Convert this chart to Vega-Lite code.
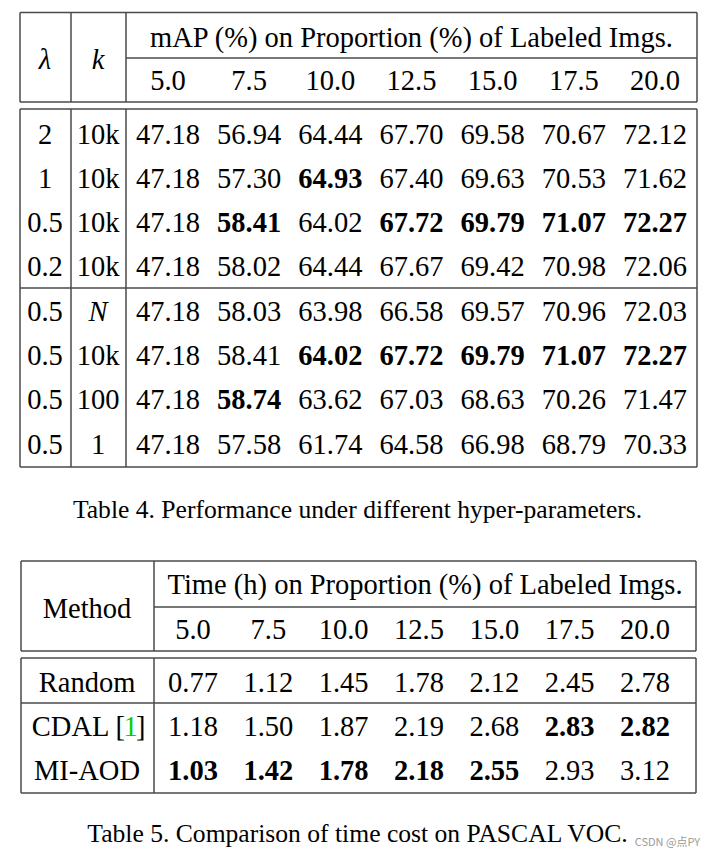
{
  "$schema": "https://vega.github.io/schema/vega-lite/v6.json",
  "width": 707,
  "height": 859,
  "padding": 0,
  "autosize": {"type": "none"},
  "background": "white",
  "config": {
    "view": {"stroke": null},
    "text": {"font": "Liberation Serif", "fontSize": 28.5, "color": "#000000", "baseline": "middle", "align": "center", "dy": 1.5},
    "rule": {"color": "#4a4a4a", "strokeWidth": 1.5}
  },
  "datasets": {
    "t4lines": [
      {"x1": -0.5, "x2": 8.5, "y1": -0.5, "y2": -0.5},
      {"x1": 1.5, "x2": 8.5, "y1": 0.5, "y2": 0.5},
      {"x1": -0.5, "x2": 8.5, "y1": 1.5, "y2": 1.5},
      {"x1": -0.5, "x2": -0.5, "y1": -0.5, "y2": 1.5},
      {"x1": 0.5, "x2": 0.5, "y1": -0.5, "y2": 1.5},
      {"x1": 1.5, "x2": 1.5, "y1": -0.5, "y2": 1.5},
      {"x1": 8.5, "x2": 8.5, "y1": -0.5, "y2": 1.5},
      {"x1": -0.5, "x2": 8.5, "y1": 1.6, "y2": 1.6},
      {"x1": -0.5, "x2": 8.5, "y1": 5.5, "y2": 5.5},
      {"x1": -0.5, "x2": 8.5, "y1": 9.5, "y2": 9.5},
      {"x1": -0.5, "x2": -0.5, "y1": 1.6, "y2": 9.5},
      {"x1": 0.5, "x2": 0.5, "y1": 1.6, "y2": 9.5},
      {"x1": 1.5, "x2": 1.5, "y1": 1.6, "y2": 9.5},
      {"x1": 8.5, "x2": 8.5, "y1": 1.6, "y2": 9.5}
    ],
    "t4cells": [
      {"row": 0, "col": 5, "text": "mAP (%) on Proportion (%) of Labeled Imgs."},
      {"row": 0.5, "col": 0, "text": "λ", "math": true},
      {"row": 0.5, "col": 1, "text": "k", "math": true},
      {"row": 1, "col": 2, "text": "5.0"},
      {"row": 1, "col": 3, "text": "7.5"},
      {"row": 1, "col": 4, "text": "10.0"},
      {"row": 1, "col": 5, "text": "12.5"},
      {"row": 1, "col": 6, "text": "15.0"},
      {"row": 1, "col": 7, "text": "17.5"},
      {"row": 1, "col": 8, "text": "20.0"},

      {"row": 2, "col": 0, "text": "2"},
      {"row": 2, "col": 1, "text": "10k"},
      {"row": 2, "col": 2, "text": "47.18"},
      {"row": 2, "col": 3, "text": "56.94"},
      {"row": 2, "col": 4, "text": "64.44"},
      {"row": 2, "col": 5, "text": "67.70"},
      {"row": 2, "col": 6, "text": "69.58"},
      {"row": 2, "col": 7, "text": "70.67"},
      {"row": 2, "col": 8, "text": "72.12"},

      {"row": 3, "col": 0, "text": "1"},
      {"row": 3, "col": 1, "text": "10k"},
      {"row": 3, "col": 2, "text": "47.18"},
      {"row": 3, "col": 3, "text": "57.30"},
      {"row": 3, "col": 4, "text": "64.93", "bold": true},
      {"row": 3, "col": 5, "text": "67.40"},
      {"row": 3, "col": 6, "text": "69.63"},
      {"row": 3, "col": 7, "text": "70.53"},
      {"row": 3, "col": 8, "text": "71.62"},

      {"row": 4, "col": 0, "text": "0.5"},
      {"row": 4, "col": 1, "text": "10k"},
      {"row": 4, "col": 2, "text": "47.18"},
      {"row": 4, "col": 3, "text": "58.41", "bold": true},
      {"row": 4, "col": 4, "text": "64.02"},
      {"row": 4, "col": 5, "text": "67.72", "bold": true},
      {"row": 4, "col": 6, "text": "69.79", "bold": true},
      {"row": 4, "col": 7, "text": "71.07", "bold": true},
      {"row": 4, "col": 8, "text": "72.27", "bold": true},

      {"row": 5, "col": 0, "text": "0.2"},
      {"row": 5, "col": 1, "text": "10k"},
      {"row": 5, "col": 2, "text": "47.18"},
      {"row": 5, "col": 3, "text": "58.02"},
      {"row": 5, "col": 4, "text": "64.44"},
      {"row": 5, "col": 5, "text": "67.67"},
      {"row": 5, "col": 6, "text": "69.42"},
      {"row": 5, "col": 7, "text": "70.98"},
      {"row": 5, "col": 8, "text": "72.06"},

      {"row": 6, "col": 0, "text": "0.5"},
      {"row": 6, "col": 1, "text": "N", "math": true},
      {"row": 6, "col": 2, "text": "47.18"},
      {"row": 6, "col": 3, "text": "58.03"},
      {"row": 6, "col": 4, "text": "63.98"},
      {"row": 6, "col": 5, "text": "66.58"},
      {"row": 6, "col": 6, "text": "69.57"},
      {"row": 6, "col": 7, "text": "70.96"},
      {"row": 6, "col": 8, "text": "72.03"},

      {"row": 7, "col": 0, "text": "0.5"},
      {"row": 7, "col": 1, "text": "10k"},
      {"row": 7, "col": 2, "text": "47.18"},
      {"row": 7, "col": 3, "text": "58.41"},
      {"row": 7, "col": 4, "text": "64.02", "bold": true},
      {"row": 7, "col": 5, "text": "67.72", "bold": true},
      {"row": 7, "col": 6, "text": "69.79", "bold": true},
      {"row": 7, "col": 7, "text": "71.07", "bold": true},
      {"row": 7, "col": 8, "text": "72.27", "bold": true},

      {"row": 8, "col": 0, "text": "0.5"},
      {"row": 8, "col": 1, "text": "100"},
      {"row": 8, "col": 2, "text": "47.18"},
      {"row": 8, "col": 3, "text": "58.74", "bold": true},
      {"row": 8, "col": 4, "text": "63.62"},
      {"row": 8, "col": 5, "text": "67.03"},
      {"row": 8, "col": 6, "text": "68.63"},
      {"row": 8, "col": 7, "text": "70.26"},
      {"row": 8, "col": 8, "text": "71.47"},

      {"row": 9, "col": 0, "text": "0.5"},
      {"row": 9, "col": 1, "text": "1"},
      {"row": 9, "col": 2, "text": "47.18"},
      {"row": 9, "col": 3, "text": "57.58"},
      {"row": 9, "col": 4, "text": "61.74"},
      {"row": 9, "col": 5, "text": "64.58"},
      {"row": 9, "col": 6, "text": "66.98"},
      {"row": 9, "col": 7, "text": "68.79"},
      {"row": 9, "col": 8, "text": "70.33"}
    ],
    "t4caption": [
      {"row": 11, "text": "Table 4. Performance under different hyper-parameters."}
    ],
    "t5lines": [
      {"x1": -0.5, "x2": 7.5, "y1": -0.5, "y2": -0.5},
      {"x1": 0.5, "x2": 7.5, "y1": 0.5, "y2": 0.5},
      {"x1": -0.5, "x2": 7.5, "y1": 1.5, "y2": 1.5},
      {"x1": -0.5, "x2": -0.5, "y1": -0.5, "y2": 1.5},
      {"x1": 0.5, "x2": 0.5, "y1": -0.5, "y2": 1.5},
      {"x1": 7.5, "x2": 7.5, "y1": -0.5, "y2": 1.5},
      {"x1": -0.5, "x2": 7.5, "y1": 1.6, "y2": 1.6},
      {"x1": -0.5, "x2": 7.5, "y1": 2.5, "y2": 2.5},
      {"x1": -0.5, "x2": 7.5, "y1": 4.5, "y2": 4.5},
      {"x1": -0.5, "x2": -0.5, "y1": 1.6, "y2": 4.5},
      {"x1": 0.5, "x2": 0.5, "y1": 1.6, "y2": 4.5},
      {"x1": 7.5, "x2": 7.5, "y1": 1.6, "y2": 4.5}
    ],
    "t5cells": [
      {"row": 0, "col": 4.08, "text": "Time (h) on Proportion (%) of Labeled Imgs."},
      {"row": 0.5, "col": 0, "text": "Method"},
      {"row": 1, "col": 1, "text": "5.0"},
      {"row": 1, "col": 2, "text": "7.5"},
      {"row": 1, "col": 3, "text": "10.0"},
      {"row": 1, "col": 4, "text": "12.5"},
      {"row": 1, "col": 5, "text": "15.0"},
      {"row": 1, "col": 6, "text": "17.5"},
      {"row": 1, "col": 7, "text": "20.0"},

      {"row": 2, "col": 0, "text": "Random"},
      {"row": 2, "col": 1, "text": "0.77"},
      {"row": 2, "col": 2, "text": "1.12"},
      {"row": 2, "col": 3, "text": "1.45"},
      {"row": 2, "col": 4, "text": "1.78"},
      {"row": 2, "col": 5, "text": "2.12"},
      {"row": 2, "col": 6, "text": "2.45"},
      {"row": 2, "col": 7, "text": "2.78"},

      {"row": 3, "col": 1, "text": "1.18"},
      {"row": 3, "col": 2, "text": "1.50"},
      {"row": 3, "col": 3, "text": "1.87"},
      {"row": 3, "col": 4, "text": "2.19"},
      {"row": 3, "col": 5, "text": "2.68"},
      {"row": 3, "col": 6, "text": "2.83", "bold": true},
      {"row": 3, "col": 7, "text": "2.82", "bold": true},

      {"row": 4, "col": 0, "text": "MI-AOD"},
      {"row": 4, "col": 1, "text": "1.03", "bold": true},
      {"row": 4, "col": 2, "text": "1.42", "bold": true},
      {"row": 4, "col": 3, "text": "1.78", "bold": true},
      {"row": 4, "col": 4, "text": "2.18", "bold": true},
      {"row": 4, "col": 5, "text": "2.55", "bold": true},
      {"row": 4, "col": 6, "text": "2.93"},
      {"row": 4, "col": 7, "text": "3.12"}
    ],
    "t5cite": [
      {"row": 3, "col": 0, "part": "name", "text": "CDAL ["},
      {"row": 3, "col": 0, "part": "ref", "text": "1"},
      {"row": 3, "col": 0, "part": "close", "text": "]"}
    ],
    "t5caption": [
      {"row": 6, "text": "Table 5. Comparison of time cost on PASCAL VOC."}
    ],
    "watermark": [
      {"row": 6.42, "col": 7.54, "text": "CSDN @点PY"}
    ]
  },
  "layer": [
    {
      "layer": [
        {
          "data": {"name": "t4lines"},
          "mark": {"type": "rule"},
          "encoding": {
            "x": {"field": "x1", "type": "quantitative", "axis": null, "scale": {"domain": [-0.5, 0, 0.5, 1, 1.5, 2, 8, 8.5], "range": [20, 45, 71, 98, 126, 168, 655, 697], "zero": false, "nice": false}},
            "x2": {"field": "x2"},
            "y": {"field": "y1", "type": "quantitative", "axis": null, "scale": {"domain": [-0.5, 0, 0.5, 1, 1.5, 1.6, 2, 9, 9.5, 11], "range": [12.5, 36, 58, 79, 102, 109, 133, 443, 467, 508], "zero": false, "nice": false}},
            "y2": {"field": "y2"}
          }
        },
        {
          "data": {"name": "t4cells"},
          "transform": [{"filter": "datum.bold !== true && datum.math !== true"}],
          "mark": {"type": "text"},
          "encoding": {
            "x": {"field": "col", "type": "quantitative", "axis": null, "scale": {"domain": [-0.5, 0, 0.5, 1, 1.5, 2, 8, 8.5], "range": [20, 45, 71, 98, 126, 168, 655, 697], "zero": false, "nice": false}},
            "y": {"field": "row", "type": "quantitative", "axis": null, "scale": {"domain": [-0.5, 0, 0.5, 1, 1.5, 1.6, 2, 9, 9.5, 11], "range": [12.5, 36, 58, 79, 102, 109, 133, 443, 467, 508], "zero": false, "nice": false}},
            "text": {"field": "text"}
          }
        },
        {
          "data": {"name": "t4cells"},
          "transform": [{"filter": "datum.bold === true"}],
          "mark": {"type": "text", "fontWeight": "bold"},
          "encoding": {
            "x": {"field": "col", "type": "quantitative", "axis": null, "scale": {"domain": [-0.5, 0, 0.5, 1, 1.5, 2, 8, 8.5], "range": [20, 45, 71, 98, 126, 168, 655, 697], "zero": false, "nice": false}},
            "y": {"field": "row", "type": "quantitative", "axis": null, "scale": {"domain": [-0.5, 0, 0.5, 1, 1.5, 1.6, 2, 9, 9.5, 11], "range": [12.5, 36, 58, 79, 102, 109, 133, 443, 467, 508], "zero": false, "nice": false}},
            "text": {"field": "text"}
          }
        },
        {
          "data": {"name": "t4cells"},
          "transform": [{"filter": "datum.math === true"}],
          "mark": {"type": "text", "fontStyle": "italic"},
          "encoding": {
            "x": {"field": "col", "type": "quantitative", "axis": null, "scale": {"domain": [-0.5, 0, 0.5, 1, 1.5, 2, 8, 8.5], "range": [20, 45, 71, 98, 126, 168, 655, 697], "zero": false, "nice": false}},
            "y": {"field": "row", "type": "quantitative", "axis": null, "scale": {"domain": [-0.5, 0, 0.5, 1, 1.5, 1.6, 2, 9, 9.5, 11], "range": [12.5, 36, 58, 79, 102, 109, 133, 443, 467, 508], "zero": false, "nice": false}},
            "text": {"field": "text"}
          }
        },
        {
          "data": {"name": "t4caption"},
          "mark": {"type": "text", "fontSize": 25.6, "dx": 4},
          "encoding": {
            "y": {"field": "row", "type": "quantitative", "axis": null, "scale": {"domain": [-0.5, 0, 0.5, 1, 1.5, 1.6, 2, 9, 9.5, 11], "range": [12.5, 36, 58, 79, 102, 109, 133, 443, 467, 508], "zero": false, "nice": false}},
            "text": {"field": "text"}
          }
        }
      ]
    },
    {
      "layer": [
        {
          "data": {"name": "t5lines"},
          "mark": {"type": "rule"},
          "encoding": {
            "x": {"field": "x1", "type": "quantitative", "axis": null, "scale": {"domain": [-0.5, 0, 0.5, 1, 7, 7.5], "range": [21, 87, 154, 193, 645, 696], "zero": false, "nice": false}},
            "x2": {"field": "x2"},
            "y": {"field": "y1", "type": "quantitative", "axis": null, "scale": {"domain": [-0.5, 0, 0.5, 1, 1.5, 1.6, 2, 4, 4.5, 6], "range": [561, 583, 607, 628, 651, 658, 681, 769, 793, 832], "zero": false, "nice": false}},
            "y2": {"field": "y2"}
          }
        },
        {
          "data": {"name": "t5cells"},
          "transform": [{"filter": "datum.bold !== true"}],
          "mark": {"type": "text"},
          "encoding": {
            "x": {"field": "col", "type": "quantitative", "axis": null, "scale": {"domain": [-0.5, 0, 0.5, 1, 7, 7.5], "range": [21, 87, 154, 193, 645, 696], "zero": false, "nice": false}},
            "y": {"field": "row", "type": "quantitative", "axis": null, "scale": {"domain": [-0.5, 0, 0.5, 1, 1.5, 1.6, 2, 4, 4.5, 6], "range": [561, 583, 607, 628, 651, 658, 681, 769, 793, 832], "zero": false, "nice": false}},
            "text": {"field": "text"}
          }
        },
        {
          "data": {"name": "t5cells"},
          "transform": [{"filter": "datum.bold === true"}],
          "mark": {"type": "text", "fontWeight": "bold"},
          "encoding": {
            "x": {"field": "col", "type": "quantitative", "axis": null, "scale": {"domain": [-0.5, 0, 0.5, 1, 7, 7.5], "range": [21, 87, 154, 193, 645, 696], "zero": false, "nice": false}},
            "y": {"field": "row", "type": "quantitative", "axis": null, "scale": {"domain": [-0.5, 0, 0.5, 1, 1.5, 1.6, 2, 4, 4.5, 6], "range": [561, 583, 607, 628, 651, 658, 681, 769, 793, 832], "zero": false, "nice": false}},
            "text": {"field": "text"}
          }
        },
        {
          "data": {"name": "t5cite"},
          "transform": [{"filter": "datum.part === 'name'"}],
          "mark": {"type": "text", "align": "right", "dx": 38},
          "encoding": {
            "x": {"field": "col", "type": "quantitative", "axis": null, "scale": {"domain": [-0.5, 0, 0.5, 1, 7, 7.5], "range": [21, 87, 154, 193, 645, 696], "zero": false, "nice": false}},
            "y": {"field": "row", "type": "quantitative", "axis": null, "scale": {"domain": [-0.5, 0, 0.5, 1, 1.5, 1.6, 2, 4, 4.5, 6], "range": [561, 583, 607, 628, 651, 658, 681, 769, 793, 832], "zero": false, "nice": false}},
            "text": {"field": "text"}
          }
        },
        {
          "data": {"name": "t5cite"},
          "transform": [{"filter": "datum.part === 'ref'"}],
          "mark": {"type": "text", "align": "center", "dx": 43.5, "color": "#00d000"},
          "encoding": {
            "x": {"field": "col", "type": "quantitative", "axis": null, "scale": {"domain": [-0.5, 0, 0.5, 1, 7, 7.5], "range": [21, 87, 154, 193, 645, 696], "zero": false, "nice": false}},
            "y": {"field": "row", "type": "quantitative", "axis": null, "scale": {"domain": [-0.5, 0, 0.5, 1, 1.5, 1.6, 2, 4, 4.5, 6], "range": [561, 583, 607, 628, 651, 658, 681, 769, 793, 832], "zero": false, "nice": false}},
            "text": {"field": "text"}
          }
        },
        {
          "data": {"name": "t5cite"},
          "transform": [{"filter": "datum.part === 'close'"}],
          "mark": {"type": "text", "align": "left", "dx": 49},
          "encoding": {
            "x": {"field": "col", "type": "quantitative", "axis": null, "scale": {"domain": [-0.5, 0, 0.5, 1, 7, 7.5], "range": [21, 87, 154, 193, 645, 696], "zero": false, "nice": false}},
            "y": {"field": "row", "type": "quantitative", "axis": null, "scale": {"domain": [-0.5, 0, 0.5, 1, 1.5, 1.6, 2, 4, 4.5, 6], "range": [561, 583, 607, 628, 651, 658, 681, 769, 793, 832], "zero": false, "nice": false}},
            "text": {"field": "text"}
          }
        },
        {
          "data": {"name": "t5caption"},
          "mark": {"type": "text", "fontSize": 25.6, "dx": 4},
          "encoding": {
            "y": {"field": "row", "type": "quantitative", "axis": null, "scale": {"domain": [-0.5, 0, 0.5, 1, 1.5, 1.6, 2, 4, 4.5, 6], "range": [561, 583, 607, 628, 651, 658, 681, 769, 793, 832], "zero": false, "nice": false}},
            "text": {"field": "text"}
          }
        },
        {
          "data": {"name": "watermark"},
          "mark": {"type": "text", "align": "right", "font": "Noto Sans CJK SC", "fontSize": 11, "color": "#9a9a9a", "dy": 0},
          "encoding": {
            "x": {"field": "col", "type": "quantitative", "axis": null, "scale": {"domain": [-0.5, 0, 0.5, 1, 7, 7.5], "range": [21, 87, 154, 193, 645, 696], "zero": false, "nice": false}},
            "y": {"field": "row", "type": "quantitative", "axis": null, "scale": {"domain": [-0.5, 0, 0.5, 1, 1.5, 1.6, 2, 4, 4.5, 6], "range": [561, 583, 607, 628, 651, 658, 681, 769, 793, 832], "zero": false, "nice": false}},
            "text": {"field": "text"}
          }
        }
      ]
    }
  ],
  "resolve": {"scale": {"x": "independent", "y": "independent"}}
}
